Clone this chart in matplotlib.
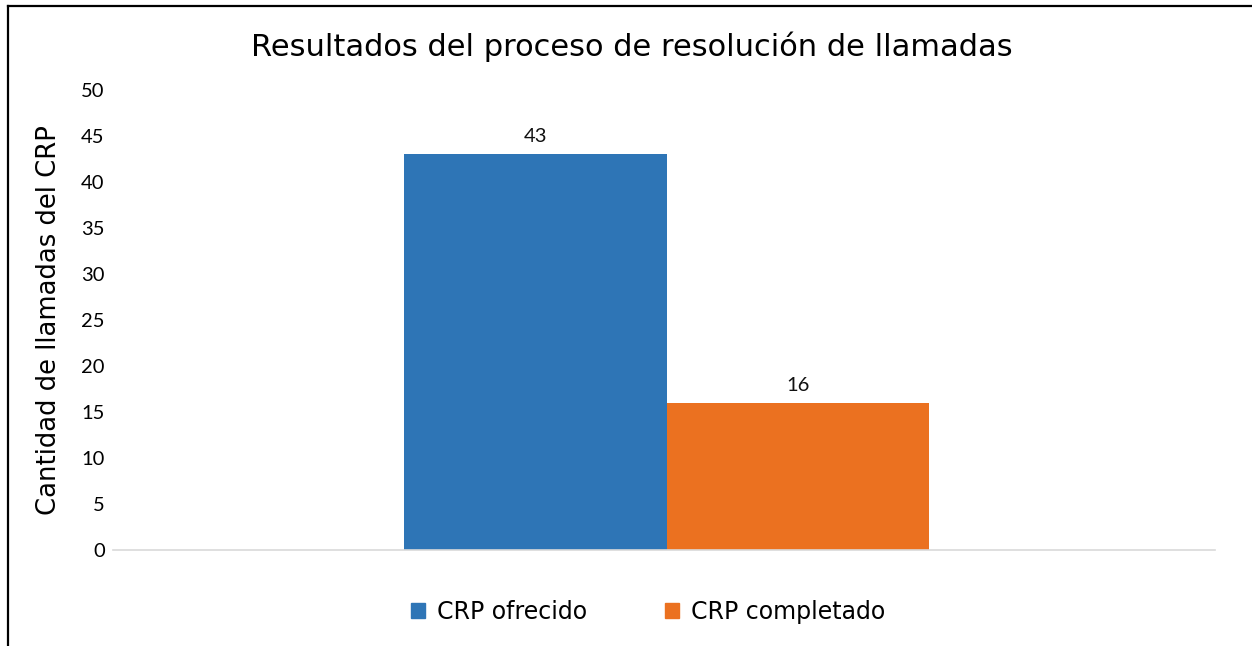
import matplotlib.pyplot as plt
from matplotlib.lines import Line2D
from matplotlib.patches import Patch

# chart data
series = ["CRP ofrecido", "CRP completado"]
values = [43, 16]
colors = ["#2e75b6", "#eb7120"]
yticks = list(range(0, 55, 5))

W, H = 1252, 646
fig = plt.figure(figsize=(W / 100, H / 100), dpi=100)
ax = fig.add_axes([113 / W, 1 - 550 / H, (1215 - 113) / W, 460 / H])

xpos = [-0.5, 0.5]
bars = ax.bar(xpos, values, width=1.0, color=colors)
for b, v in zip(bars, values):
    ax.text(b.get_x() + b.get_width() / 2, v + 1.0, str(v), ha="center", va="bottom",
            fontsize=14.5, family="Lato", color="#111111")

ax.set_xlim(-2.11, 2.09)
ax.set_ylim(0, 50)
ax.set_yticks(yticks)
ax.set_yticklabels([str(t) for t in yticks], family="Lato", fontsize=14.5)
ax.set_xticks([])
ax.tick_params(axis="y", length=0, pad=6)
for lbl in ax.get_yticklabels():
    lbl.set_y(lbl.get_position()[1])
for s in ["top", "right", "left"]:
    ax.spines[s].set_visible(False)
ax.spines["bottom"].set_color("#d9d9d9")
ax.spines["bottom"].set_linewidth(1.2)

ax.set_ylabel("Cantidad de llamadas del CRP", fontsize=18.6, labelpad=14)

fig.text(632 / W, 1 - 47 / H, "Resultados del proceso de resolución de llamadas",
         ha="center", va="center", fontsize=22)

handles = [Patch(color=c, label=s) for c, s in zip(colors, series)]
fig.legend(handles=handles, loc="center", bbox_to_anchor=(648 / W, 1 - 612 / H),
           ncol=2, frameon=False, fontsize=17, handlelength=0.6, handleheight=0.6,
           columnspacing=3.3, handletextpad=0.5)

# outer frame (top and left only)
fig.add_artist(Line2D([8 / W, 1], [1 - 6 / H, 1 - 6 / H], color="black", lw=1.6,
                      transform=fig.transFigure))
fig.add_artist(Line2D([8 / W, 8 / W], [0, 1 - 6 / H], color="black", lw=1.6,
                      transform=fig.transFigure))

fig.savefig("out.png", dpi=100)
